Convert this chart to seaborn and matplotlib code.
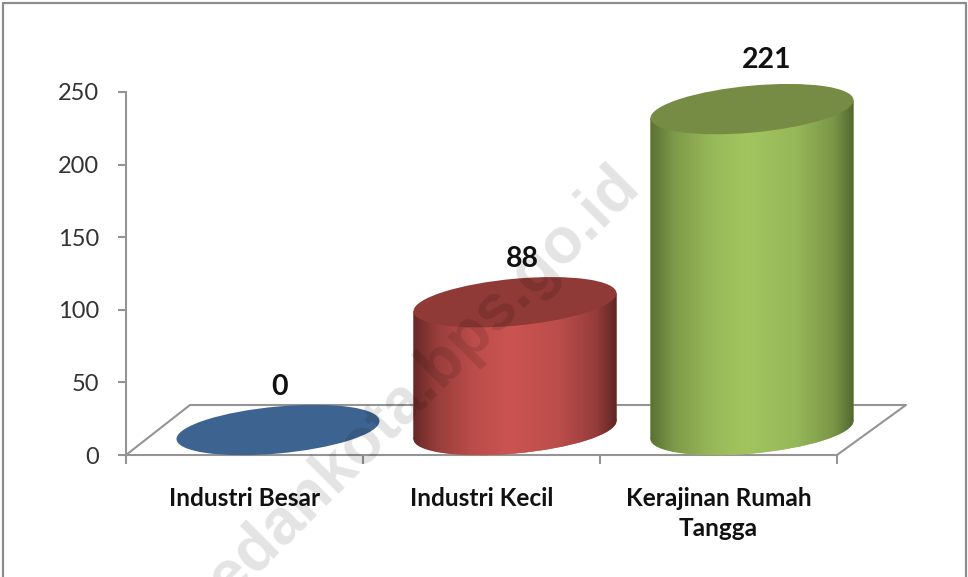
import numpy as np
import pandas as pd
import matplotlib
matplotlib.use('Agg')
import matplotlib.pyplot as plt
from matplotlib.colors import LinearSegmentedColormap, to_rgb
from matplotlib.patches import Ellipse, Rectangle
from matplotlib.transforms import Affine2D
import seaborn as sns

categories = ['Industri Besar', 'Industri Kecil', 'Kerajinan Rumah\nTangga']
values = [0, 88, 221]
y_ticks = [0, 50, 100, 150, 200, 250]

# colours of the cylinders: flat top, then side gradient left / middle / right
top_colors = ['#3d6391', '#8f3a37', '#768b44']
side_colors = [
    ['#2c4a6e', '#3d6391', '#2c4a6e'],
    ['#672826', '#cb5451', '#5f2524'],
    ['#5a7034', '#a2c55f', '#536830'],
]
label_dx = [2, 7, 15]   # px, data labels sit a bit right of the cylinders
label_dy = [43, 43, 49]

W, H = 968, 577
GREY = '#949494'

sns.set_theme(style='white')
plt.rcParams['font.family'] = ['Lato', 'DejaVu Sans']
plt.rcParams['ytick.alignment'] = 'center_baseline'

fig = plt.figure(figsize=(W / 100, H / 100), dpi=100, facecolor='white')

# main axes: the 0-250 scale and the floor
ax = fig.add_axes([126 / W, (H - 455) / H, 711 / W, 363 / H])
ax.set_xlim(-0.5, 2.5)
ax.set_ylim(0, 250)
ax.patch.set_alpha(0)
sns.despine(ax=ax)
for s in ['left', 'bottom']:
    ax.spines[s].set_color(GREY)
    ax.spines[s].set_linewidth(1.5)
ax.set_yticks(y_ticks)
ax.tick_params(axis='y', left=True, length=6, width=1.5, color=GREY, pad=13.5, labelsize=17, labelcolor='#333333')
ax.set_xticks([-0.5, 0.5, 1.5, 2.5], ['', '', '', ''])
ax.tick_params(axis='x', which='major', bottom=True, length=6.5, width=1.5, color=GREY)
ax.set_xticks(range(3), categories, minor=True, fontweight='bold', linespacing=1.35, va='top')
ax.tick_params(axis='x', which='minor', length=0, pad=23, labelsize=17.6, labelcolor='#111111')

# floor of the 3d plot
floor_x = [0, 64 / 711, 780 / 711, 1]
floor_y = [0, 50 / 363, 50 / 363, 0]
ax.plot(floor_x, floor_y, color=GREY, lw=1.5, transform=ax.transAxes, clip_on=False)

# second axes for the bars, shifted back on the floor
ax2 = fig.add_axes([(126 + 33.5) / W, (H - 430) / H, 711 / W, 363 / H])
df = pd.DataFrame({'kategori': categories, 'nilai': values})
sns.barplot(data=df, x='kategori', y='nilai', hue='kategori', palette=[c[1] for c in side_colors],
            width=0.857, saturation=1, legend=False, ax=ax2)
ax2.set_xlim(-0.5, 2.5)
ax2.set_ylim(0, 250)
ax2.axis('off')

half_w = 0.857 / 2
half_px = 101.5
half_h = 23.5
slope = 9.0 / half_px


def mix(a, b, t):
    return tuple((1 - t) * p + t * q for p, q in zip(to_rgb(a), to_rgb(b)))


def shade(patch, colors, x):
    left, mid, right = colors
    stops = [(0, left), (0.12, mix(left, mid, 0.5)), (0.3, mix(left, mid, 0.85)), (0.48, mid),
             (0.72, mix(right, mid, 0.85)), (0.9, mix(right, mid, 0.5)), (1, right)]
    cmap = LinearSegmentedColormap.from_list('side', stops)
    im = ax2.imshow(np.linspace(0, 1, 256)[None, :], cmap=cmap, aspect='auto', interpolation='bilinear',
                    extent=[x - half_w, x + half_w, -40, 280], zorder=patch.get_zorder() + 0.1)
    im.set_clip_box(fig.bbox)
    # path + transform, a Rectangle patch alone would clip to its bounding box
    im.set_clip_path(patch.get_path(), patch.get_transform())


bars = [p for p in ax2.patches if isinstance(p, Rectangle)]
for i, (bar, v) in enumerate(zip(bars, values)):
    cx, base_y = ax2.transData.transform((i, 0))
    _, top_y = ax2.transData.transform((i, v))
    shear = Affine2D.from_values(1, slope, 0, 1, 0, -slope * cx)
    bar.set_transform(ax2.transData + shear)
    bar.set_clip_on(False)
    bar.set_zorder(2)
    bar.set_edgecolor('none')

    if v > 0:
        bottom = Ellipse((0, 0), 2, 2, facecolor=side_colors[i][1], edgecolor='none', zorder=2,
                         transform=Affine2D.from_values(half_px, slope * half_px, 0, half_h, cx, base_y))
        bottom.set_clip_on(False)
        ax2.add_artist(bottom)
        shade(bottom, side_colors[i], i)
        shade(bar, side_colors[i], i)

    top = Ellipse((0, 0), 2, 2, facecolor=top_colors[i], edgecolor='none', zorder=3,
                  transform=Affine2D.from_values(half_px, slope * half_px, 0, half_h, cx, top_y))
    top.set_clip_on(False)
    ax2.add_artist(top)

    ax2.annotate(str(v), (i, v), xytext=(label_dx[i] * 0.72, label_dy[i] * 0.72), textcoords='offset points',
                 ha='center', va='center', fontsize=20.5, fontweight='bold', color='#111111',
                 annotation_clip=False, zorder=5)

# frame of the screenshot, open at the bottom
fig.add_artist(plt.Line2D([3 / W, 3 / W, 965.5 / W, 965.5 / W], [0, (H - 3) / H, (H - 3) / H, 0],
                          color='#8c8c8c', lw=1.6))

# watermark
fig.text(403 / W, (H - 401) / H, 'medankota.bps.go.id', rotation=45, rotation_mode='anchor',
         ha='center', va='center', fontsize=46, fontweight='bold', family='Liberation Sans',
         color='black', alpha=0.11, zorder=10)

fig.savefig('out.png', dpi=100)
